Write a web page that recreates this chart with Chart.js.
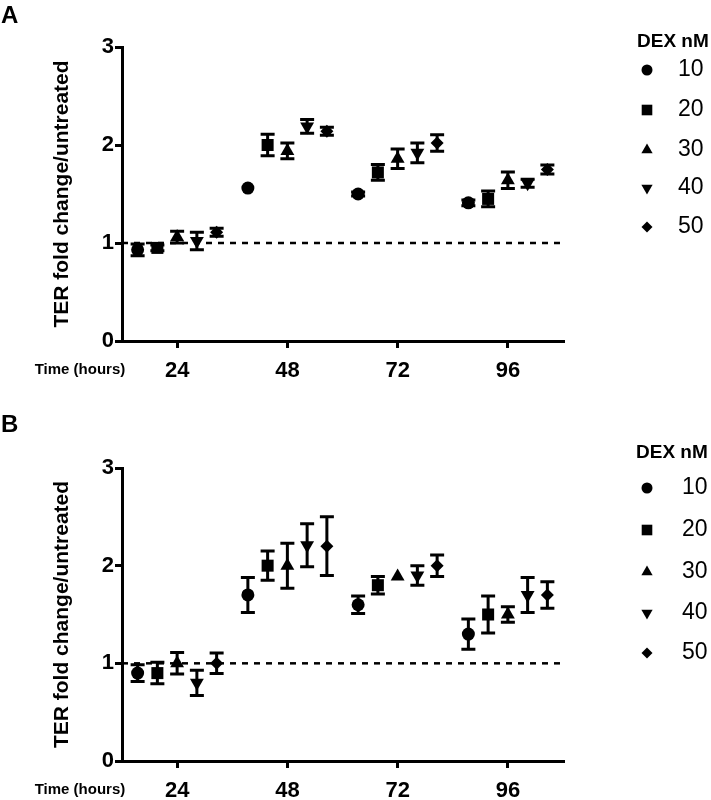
<!DOCTYPE html>
<html><head><meta charset="utf-8">
<script src="https://cdn.jsdelivr.net/npm/chart.js@4.4.1/dist/chart.umd.min.js"></script>
<style>
html,body{margin:0;padding:0;background:#fff;overflow:hidden;}
#wrap{position:relative;width:711px;height:800px;}
canvas{position:absolute;left:0;}
#cA{top:0;}
#cB{top:405px;}
</style></head><body>
<div id="wrap">
<canvas id="cA" width="711" height="405"></canvas>
<canvas id="cB" width="711" height="395"></canvas>
</div>
<script>
// ---------- data ----------
const timePoints = [24, 48, 72, 96];
const yTickValues = [0, 1, 2, 3];
const dexLabels = ['10', '20', '30', '40', '50'];
const referenceValue = 1;

// Panel A: mean TER fold change per DEX concentration at each time point
const panelA_dex10 = [0.93, 1.56, 1.50, 1.41];
const panelA_dex20 = [0.95, 2.00, 1.72, 1.45];
const panelA_dex30 = [1.06, 1.94, 1.86, 1.64];
const panelA_dex40 = [1.02, 2.19, 1.92, 1.61];
const panelA_dex50 = [1.11, 2.14, 2.02, 1.75];
// Panel A: error (± half-length of error bar)
const panelA_err10 = [0.06, 0.00, 0.02, 0.03];
const panelA_err20 = [0.03, 0.11, 0.08, 0.08];
const panelA_err30 = [0.06, 0.08, 0.10, 0.085];
const panelA_err40 = [0.09, 0.07, 0.10, 0.04];
const panelA_err50 = [0.04, 0.04, 0.085, 0.045];

// Panel B
const panelB_dex10 = [0.90, 1.70, 1.60, 1.30];
const panelB_dex20 = [0.90, 2.00, 1.80, 1.50];
const panelB_dex30 = [1.00, 2.00, 1.89, 1.50];
const panelB_dex40 = [0.80, 2.21, 1.90, 1.70];
const panelB_dex50 = [1.00, 2.20, 2.00, 1.70];
const panelB_err10 = [0.085, 0.18, 0.09, 0.155];
const panelB_err20 = [0.11, 0.15, 0.09, 0.19];
const panelB_err30 = [0.11, 0.23, 0.00, 0.08];
const panelB_err40 = [0.13, 0.22, 0.10, 0.18];
const panelB_err50 = [0.105, 0.30, 0.11, 0.135];

// ---------- styling / layout ----------
const FONT = "'Liberation Sans', Arial, Helvetica, sans-serif";
const xMin = 12, xMax = 108;
const groupSpacing = 4.3; // hours between neighbouring series within a time group
const markerStyles = [
  {pointStyle: 'circle', radius: 6.5, rotation: 0, legendRadius: 5.5},
  {pointStyle: 'rect', radius: 8.5, rotation: 0, legendRadius: 7.5},
  {pointStyle: 'triangle', radius: 8, rotation: 0, legendRadius: 6.5},
  {pointStyle: 'triangle', radius: 8, rotation: 180, legendRadius: 6.5},
  {pointStyle: 'rectRot', radius: 6.5, rotation: 0, legendRadius: 5.5}
];

const errorBarPlugin = {
  id: 'errorBars',
  afterDatasetsDraw(chart) {
    const ctx = chart.ctx, ys = chart.scales.y;
    chart.data.datasets.forEach((ds, di) => {
      if (!ds.errors) return;
      const meta = chart.getDatasetMeta(di);
      meta.data.forEach((pt, k) => {
        const e = ds.errors[k];
        if (!e) return;
        const v = ds.data[k].y;
        const yt = ys.getPixelForValue(v + e), yb = ys.getPixelForValue(v - e);
        ctx.save();
        ctx.strokeStyle = '#000';
        ctx.lineWidth = 3;
        ctx.beginPath();
        ctx.moveTo(pt.x, yt); ctx.lineTo(pt.x, yb);
        ctx.moveTo(pt.x - 7, yt); ctx.lineTo(pt.x + 7, yt);
        ctx.moveTo(pt.x - 7, yb); ctx.lineTo(pt.x + 7, yb);
        ctx.stroke();
        ctx.restore();
      });
    });
  }
};

function drawMarker(ctx, st, r, x, y) {
  if (Chart.helpers && Chart.helpers.drawPoint) {
    ctx.fillStyle = '#000';
    ctx.strokeStyle = '#000';
    Chart.helpers.drawPoint(ctx, {pointStyle: st.pointStyle, rotation: st.rotation, radius: r, borderWidth: 0}, x, y);
  }
}

const decorPlugin = {
  id: 'decor',
  afterDraw(chart, args, o) {
    const ctx = chart.ctx;
    ctx.save();
    ctx.fillStyle = '#000';
    ctx.textBaseline = 'middle';
    // panel letter
    ctx.textAlign = 'left';
    ctx.font = 'bold 24px ' + FONT;
    ctx.fillText(o.letter, 1, o.letterY);
    // x-axis caption
    ctx.textAlign = 'center';
    ctx.font = 'bold 15px ' + FONT;
    ctx.fillText('Time (hours)', 80, o.captionY);
    // legend
    ctx.textAlign = 'left';
    ctx.font = 'bold 19px ' + FONT;
    ctx.fillText('DEX nM', o.legX, o.legTitleY);
    ctx.font = '23px ' + FONT;
    dexLabels.forEach((lab, i) => {
      const y = o.legRows[i];
      drawMarker(ctx, markerStyles[i], markerStyles[i].legendRadius, o.legMarkerX, y);
      ctx.fillStyle = '#000';
      ctx.fillText(lab, o.legTextX, y);
    });
    ctx.restore();
  }
};

function makePanel(id, means, errs, cfg) {
  const datasets = means.map((m, i) => ({
    type: 'scatter',
    label: dexLabels[i],
    data: timePoints.map((t, k) => ({x: t + (i - 2) * groupSpacing, y: m[k]})),
    errors: errs[i],
    pointStyle: markerStyles[i].pointStyle,
    pointRadius: markerStyles[i].radius,
    pointRotation: markerStyles[i].rotation,
    backgroundColor: '#000',
    borderColor: '#000',
    borderWidth: 0,
    order: 1
  }));
  datasets.push({
    type: 'line',
    label: 'reference',
    data: [{x: xMin, y: referenceValue}, {x: xMax, y: referenceValue}],
    borderColor: '#000',
    borderWidth: 2.5,
    borderDash: [6, 6],
    pointRadius: 0,
    fill: false,
    order: 2
  });
  const gridCfg = {display: true, drawOnChartArea: false, drawTicks: true, tickLength: 7, lineWidth: 3, color: '#000'};
  const borderCfg = {display: true, width: 3, color: '#000'};
  return new Chart(document.getElementById(id), {
    type: 'scatter',
    data: {datasets},
    options: {
      responsive: false,
      animation: false,
      events: [],
      layout: {padding: {top: cfg.chartTop, left: 0, right: 148, bottom: 0}},
      plugins: {
        legend: {display: false},
        tooltip: {enabled: false},
        decor: cfg.decor
      },
      scales: {
        x: {
          type: 'linear', min: xMin, max: xMax,
          afterBuildTicks: s => { s.ticks = timePoints.map(v => ({value: v})); },
          afterFit: s => { s.height = s.chart.height - cfg.chartBottom; },
          ticks: {color: '#000', font: {family: FONT, size: 22, weight: 'bold'}, padding: 10, maxRotation: 0, autoSkip: false},
          grid: gridCfg,
          border: borderCfg
        },
        y: {
          type: 'linear', min: 0, max: 3,
          afterBuildTicks: s => { s.ticks = yTickValues.map(v => ({value: v})); },
          afterFit: s => { s.width = 122; },
          ticks: {color: '#000', font: {family: FONT, size: 22, weight: 'bold'}, padding: 1},
          grid: gridCfg,
          border: borderCfg,
          title: {display: true, text: 'TER fold change/untreated', color: '#000',
                  font: {family: FONT, size: 21, weight: 'bold'}, padding: {top: 50, bottom: 0}}
        }
      }
    },
    plugins: [errorBarPlugin, decorPlugin]
  });
}

makePanel('cA',
  [panelA_dex10, panelA_dex20, panelA_dex30, panelA_dex40, panelA_dex50],
  [panelA_err10, panelA_err20, panelA_err30, panelA_err40, panelA_err50],
  {chartTop: 47, chartBottom: 341,
   decor: {letter: 'A', letterY: 16, captionY: 370, legX: 637, legTitleY: 42,
           legRows: [70, 110, 150, 188, 227], legMarkerX: 647, legTextX: 678}});

makePanel('cB',
  [panelB_dex10, panelB_dex20, panelB_dex30, panelB_dex40, panelB_dex50],
  [panelB_err10, panelB_err20, panelB_err30, panelB_err40, panelB_err50],
  {chartTop: 63, chartBottom: 356,
   decor: {letter: 'B', letterY: 20, captionY: 385, legX: 636, legTitleY: 48,
           legRows: [83, 125, 167, 208, 248], legMarkerX: 647, legTextX: 682}});
</script>
</body></html>
